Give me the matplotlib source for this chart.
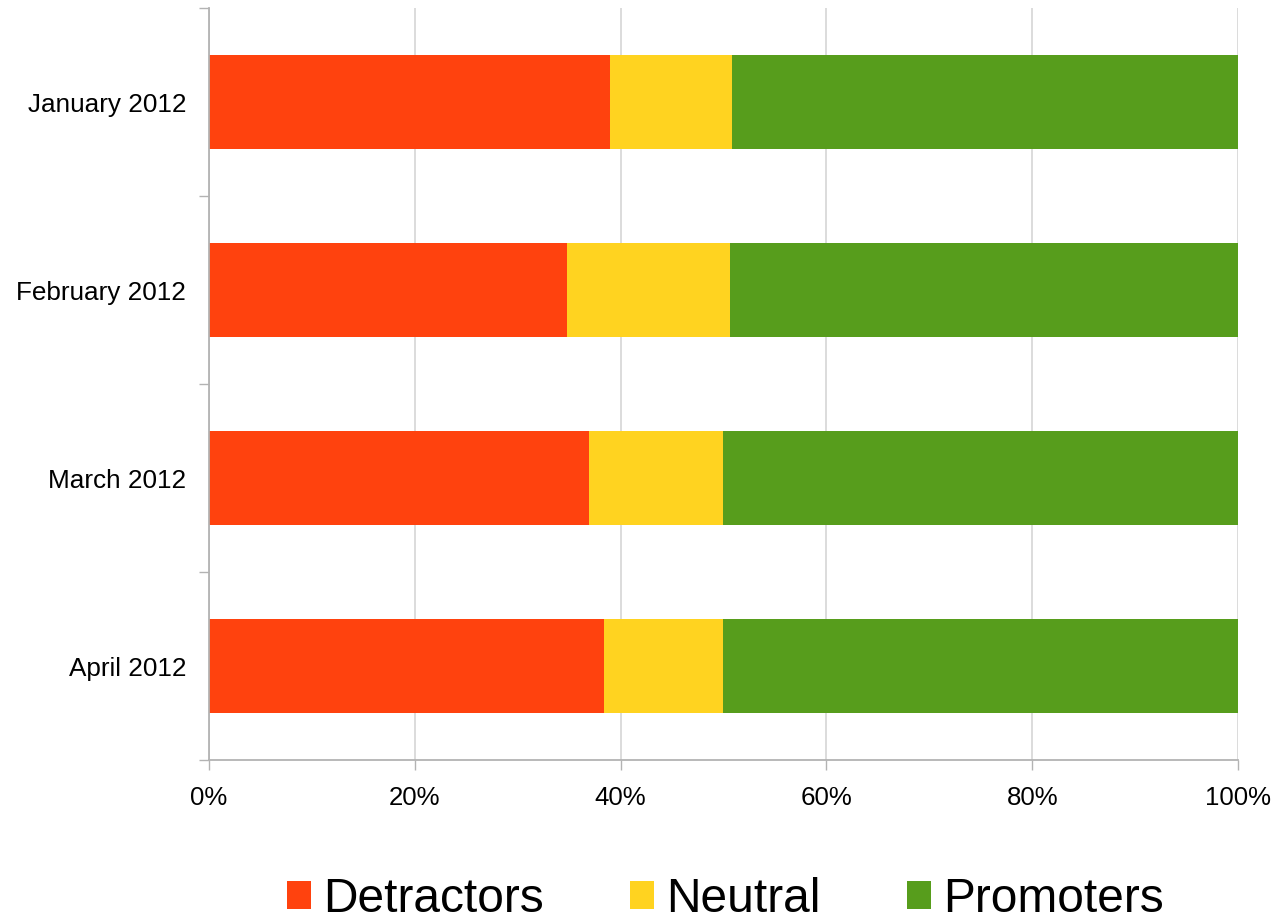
import matplotlib
matplotlib.use("Agg")
import matplotlib.pyplot as plt
from matplotlib.patches import Patch
from matplotlib.ticker import FixedLocator, PercentFormatter

plt.rcParams['font.family'] = ['Liberation Sans', 'DejaVu Sans']

# data (percent of responses)
months = ["January 2012", "February 2012", "March 2012", "April 2012"]
detractors = [39.0, 34.8, 36.9, 38.4]
neutral = [11.8, 15.8, 13.1, 11.6]
promoters = [49.2, 49.4, 50.0, 50.0]
series_names = ["Detractors", "Neutral", "Promoters"]
colors = ["#ff420e", "#ffd320", "#579d1c"]

fig = plt.figure(figsize=(12.78, 9.23), dpi=100)
ax = fig.add_axes([0.1635, 0.1766, 0.8052, 0.8147])

ypos = list(range(len(months)))
left = [0.0] * len(months)
for vals, name, col in zip([detractors, neutral, promoters], series_names, colors):
    ax.barh(ypos, vals, left=left, height=0.5, color=col, label=name, zorder=2)
    left = [l + v for l, v in zip(left, vals)]

ax.set_xlim(0, 100)
ax.set_ylim(len(months) - 0.5, -0.5)
ax.set_xticks([0, 20, 40, 60, 80, 100])
ax.xaxis.set_major_formatter(PercentFormatter(decimals=0))
ax.set_yticks(ypos)
ax.set_yticklabels(months)
ax.yaxis.set_minor_locator(FixedLocator([i - 0.5 for i in range(len(months) + 1)]))

ax.tick_params(axis='y', which='major', length=0, pad=16.5, labelsize=18.8)
ax.tick_params(axis='y', which='minor', length=7, width=1, color='#b3b3b3')
ax.tick_params(axis='x', which='major', length=7, width=1, color='#b3b3b3',
               pad=12, labelsize=18.6)

ax.grid(axis='x', color='#d9d9d9', linewidth=1.3, zorder=0)
ax.set_axisbelow(True)
for s in ['top', 'right']:
    ax.spines[s].set_visible(False)
for s in ['left', 'bottom']:
    ax.spines[s].set_color('#b3b3b3')
    ax.spines[s].set_linewidth(1.3)

handles = [Patch(facecolor=c, edgecolor='none') for c in colors]
fig.legend(handles, series_names, loc='center', bbox_to_anchor=(0.5677, 0.0255),
           ncol=3, frameon=False, fontsize=34.5, handlelength=0.5, handleheight=0.5,
           handletextpad=0.25, columnspacing=1.8, borderaxespad=0)

fig.savefig("out.png", dpi=100)
